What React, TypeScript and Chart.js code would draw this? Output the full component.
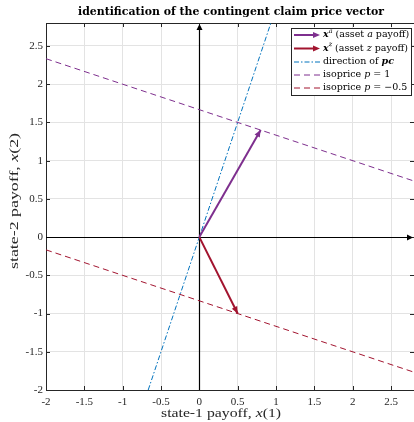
import React, { useEffect, useRef } from "react";
import { Chart, registerables } from "chart.js";

Chart.register(...registerables);

// ---- data ----
const xTickValues = [-2, -1.5, -1, -0.5, 0, 0.5, 1, 1.5, 2, 2.5];
const yTickValues = [-2, -1.5, -1, -0.5, 0, 0.5, 1, 1.5, 2, 2.5];
const axisMin = -2;
const axisMax = 2.8;

const assetAX = [0, 0.8];
const assetAY = [0, 1.4];
const assetZX = [0, 0.5];
const assetZY = [0, -1];
const directionX = [-0.667, 0.933];
const directionY = [-2, 2.8];
const isoOneX = [-2, 2.8];
const isoOneY = [2.333, 0.733];
const isoHalfX = [-2, 2.8];
const isoHalfY = [-0.167, -1.767];

const titleText = "identification of the contingent claim price vector";

const PURPLE = "#7E2F8E";
const RED = "#A2142F";
const BLUE = "#0072BD";
const DARK = "#262626";
const SERIF = '"Liberation Serif", "DejaVu Serif", serif';
const WIDE = '"DejaVu Serif", "Liberation Serif", serif';

type Run = { text: string; font: string; dy?: number };

function drawRuns(
  ctx: CanvasRenderingContext2D,
  runs: Run[],
  x: number,
  y: number,
  align: "left" | "center",
  target?: number
) {
  let total = 0;
  for (const r of runs) {
    ctx.font = r.font;
    total += ctx.measureText(r.text).width;
  }
  const sx = target ? target / total : 1;
  ctx.save();
  ctx.translate(x, y);
  ctx.scale(sx, 1);
  let cx = align === "center" ? -total / 2 : 0;
  for (const r of runs) {
    ctx.font = r.font;
    ctx.fillText(r.text, cx, r.dy || 0);
    cx += ctx.measureText(r.text).width;
  }
  ctx.restore();
}

function arrowHead(ctx: CanvasRenderingContext2D, x0: number, y0: number, x1: number, y1: number, len: number, half: number, color: string) {
  const a = Math.atan2(y1 - y0, x1 - x0);
  const bx = x1 - len * Math.cos(a);
  const by = y1 - len * Math.sin(a);
  const px = -Math.sin(a) * half;
  const py = Math.cos(a) * half;
  ctx.save();
  ctx.fillStyle = color;
  ctx.beginPath();
  ctx.moveTo(x1, y1);
  ctx.lineTo(bx + px, by + py);
  ctx.lineTo(bx - px, by - py);
  ctx.closePath();
  ctx.fill();
  ctx.restore();
}

const pts = (xs: number[], ys: number[]) => xs.map((x, i) => ({ x, y: ys[i] }));

const axesPlugin = {
  id: "axesThroughOrigin",
  beforeDatasetsDraw(chart: any) {
    const { ctx, chartArea: a, scales } = chart;
    const xs = scales.x;
    const ys = scales.y;
    const x0 = Math.round(xs.getPixelForValue(0)) + 0.5;
    const y0 = Math.round(ys.getPixelForValue(0)) + 0.5;
    ctx.save();
    ctx.strokeStyle = DARK;
    ctx.lineWidth = 1;
    ctx.beginPath();
    ctx.moveTo(a.left, a.top + 0.5);
    ctx.lineTo(a.right, a.top + 0.5);
    ctx.stroke();
    ctx.beginPath();
    for (const v of xTickValues) {
      const px = Math.round(xs.getPixelForValue(v)) + 0.5;
      ctx.moveTo(px, a.bottom);
      ctx.lineTo(px, a.bottom - 4);
      ctx.moveTo(px, a.top);
      ctx.lineTo(px, a.top + 4);
    }
    for (const v of yTickValues) {
      const py = Math.round(ys.getPixelForValue(v)) + 0.5;
      ctx.moveTo(a.left, py);
      ctx.lineTo(a.left + 4, py);
      ctx.moveTo(a.right, py);
      ctx.lineTo(a.right - 4, py);
    }
    ctx.stroke();
    ctx.strokeStyle = "#000";
    ctx.lineWidth = 1.2;
    ctx.beginPath();
    ctx.moveTo(a.left, y0);
    ctx.lineTo(a.right - 3, y0);
    ctx.moveTo(x0, a.bottom);
    ctx.lineTo(x0, a.top + 3);
    ctx.stroke();
    arrowHead(ctx, a.left, y0, a.right - 1, y0, 6, 3, "#000");
    arrowHead(ctx, x0, a.bottom, x0, a.top + 1, 6, 3, "#000");
    ctx.restore();
  },
};

const arrowsPlugin = {
  id: "vectorArrows",
  afterDatasetsDraw(chart: any) {
    const { ctx } = chart;
    const specs = [
      { i: 0, color: PURPLE },
      { i: 1, color: RED },
    ];
    for (const s of specs) {
      const meta = chart.getDatasetMeta(s.i);
      const p0 = meta.data[0];
      const p1 = meta.data[meta.data.length - 1];
      arrowHead(ctx, p0.x, p0.y, p1.x, p1.y, 7, 3, s.color);
    }
  },
};

const textPlugin = {
  id: "texts",
  afterDraw(chart: any) {
    const { ctx, chartArea: a } = chart;
    ctx.save();
    ctx.fillStyle = "#000";
    ctx.textBaseline = "middle";
    ctx.textAlign = "left";
    const cx = (a.left + a.right) / 2;
    drawRuns(ctx, [{ text: titleText, font: `bold 11px ${WIDE}` }], cx + 1, 12, "center", 306);
    ctx.fillStyle = DARK;
    const f = `12px ${SERIF}`;
    const fi = `italic 12px ${SERIF}`;
    drawRuns(
      ctx,
      [
        { text: "state-1 payoff, ", font: f },
        { text: "x", font: fi },
        { text: "(1)", font: f },
      ],
      cx - 9,
      414,
      "center",
      120
    );
    const fy = `12.5px ${SERIF}`;
    const fyi = `italic 12.5px ${SERIF}`;
    ctx.save();
    ctx.translate(15, 201);
    ctx.rotate(-Math.PI / 2);
    drawRuns(
      ctx,
      [
        { text: "state-2 payoff, ", font: fy },
        { text: "x", font: fyi },
        { text: "(2)", font: fy },
      ],
      0,
      0,
      "center",
      136
    );
    ctx.restore();

    // legend
    const L = 291.5, T = 28.5, R = 411.5, B = 95.5;
    ctx.fillStyle = "#fff";
    ctx.fillRect(L, T, R - L, B - T);
    ctx.strokeStyle = DARK;
    ctx.lineWidth = 1;
    ctx.strokeRect(L, T, R - L, B - T);
    const rows = [35, 48.5, 62, 75, 88];
    const sx0 = 294, sx1 = 320, tx = 323;
    const lf = `9.5px ${WIDE}`;
    const li = `italic 9.5px ${WIDE}`;
    const lbi = `italic bold 9.5px ${WIDE}`;
    const sup = `italic 6.5px ${WIDE}`;
    const samples = [
      { color: PURPLE, w: 2, dash: [] as number[], arrow: true },
      { color: RED, w: 2, dash: [] as number[], arrow: true },
      { color: BLUE, w: 1, dash: [5, 2, 1.5, 2], arrow: false },
      { color: PURPLE, w: 1, dash: [6, 4], arrow: false },
      { color: RED, w: 1, dash: [6, 4], arrow: false },
    ];
    samples.forEach((s, k) => {
      const y = rows[k];
      ctx.save();
      ctx.strokeStyle = s.color;
      ctx.lineWidth = s.w;
      ctx.setLineDash(s.dash);
      ctx.beginPath();
      ctx.moveTo(sx0, y);
      ctx.lineTo(s.arrow ? sx1 - 4 : sx1, y);
      ctx.stroke();
      ctx.restore();
      if (s.arrow) arrowHead(ctx, sx0, y, sx1, y, 7, 3, s.color);
    });
    ctx.fillStyle = "#000";
    drawRuns(ctx, [
      { text: "x", font: lbi },
      { text: "a", font: sup, dy: -4 },
      { text: " (asset ", font: lf },
      { text: "a", font: li },
      { text: " payoff)", font: lf },
    ], tx, rows[0], "left");
    drawRuns(ctx, [
      { text: "x", font: lbi },
      { text: "z", font: sup, dy: -4 },
      { text: " (asset ", font: lf },
      { text: "z", font: li },
      { text: " payoff)", font: lf },
    ], tx, rows[1], "left");
    drawRuns(ctx, [
      { text: "direction of ", font: lf },
      { text: "pc", font: lbi },
    ], tx, rows[2], "left");
    drawRuns(ctx, [
      { text: "isoprice ", font: lf },
      { text: "p", font: li },
      { text: " = 1", font: lf },
    ], tx, rows[3], "left");
    drawRuns(ctx, [
      { text: "isoprice ", font: lf },
      { text: "p", font: li },
      { text: " = \u22120.5", font: lf },
    ], tx, rows[4], "left");
    ctx.restore();
  },
};

export default function App() {
  const ref = useRef<HTMLCanvasElement | null>(null);

  useEffect(() => {
    if (!ref.current) return;
    const tickFont = { family: SERIF, size: 11 };
    const chart = new Chart(ref.current, {
      type: "scatter",
      data: {
        datasets: [
          { label: "xa", data: pts(assetAX, assetAY), showLine: true, borderColor: PURPLE, borderWidth: 2, pointRadius: 0 },
          { label: "xz", data: pts(assetZX, assetZY), showLine: true, borderColor: RED, borderWidth: 2, pointRadius: 0 },
          { label: "pc", data: pts(directionX, directionY), showLine: true, borderColor: BLUE, borderWidth: 1, borderDash: [5, 2, 1.5, 2], pointRadius: 0 },
          { label: "p1", data: pts(isoOneX, isoOneY), showLine: true, borderColor: PURPLE, borderWidth: 1, borderDash: [6, 4], pointRadius: 0 },
          { label: "p-0.5", data: pts(isoHalfX, isoHalfY), showLine: true, borderColor: RED, borderWidth: 1, borderDash: [6, 4], pointRadius: 0 },
        ],
      },
      options: {
        animation: false,
        responsive: false,
        maintainAspectRatio: false,
        devicePixelRatio: 1,
        layout: { padding: { top: 23, left: 0, right: 0, bottom: 0 } },
        plugins: { legend: { display: false }, title: { display: false }, tooltip: { enabled: false } },
        scales: {
          x: {
            type: "linear",
            min: axisMin,
            max: axisMax,
            afterBuildTicks: (s: any) => {
              s.ticks = xTickValues.map((v) => ({ value: v }));
            },
            afterFit: (s: any) => {
              s.height = 32;
            },
            ticks: { font: tickFont, color: DARK, padding: 6, maxRotation: 0, autoSkip: false, callback: (v: any) => String(v) },
            grid: { color: "#e3e3e3", drawTicks: false },
            border: { display: true, color: DARK, width: 1 },
          },
          y: {
            type: "linear",
            min: axisMin,
            max: axisMax,
            afterBuildTicks: (s: any) => {
              s.ticks = yTickValues.map((v) => ({ value: v }));
            },
            afterFit: (s: any) => {
              s.width = 46;
            },
            ticks: { font: tickFont, color: DARK, padding: 3, autoSkip: false, callback: (v: any) => String(v) },
            grid: { color: "#e3e3e3", drawTicks: false },
            border: { display: true, color: DARK, width: 1 },
          },
        },
      } as any,
      plugins: [axesPlugin, arrowsPlugin, textPlugin],
    });
    return () => chart.destroy();
  }, []);

  return (
    <div style={{ position: "fixed", left: 0, top: 0, width: 414, height: 422, background: "#fff" }}>
      <canvas ref={ref} width={414} height={422} style={{ display: "block", width: 414, height: 422 }} />
    </div>
  );
}
